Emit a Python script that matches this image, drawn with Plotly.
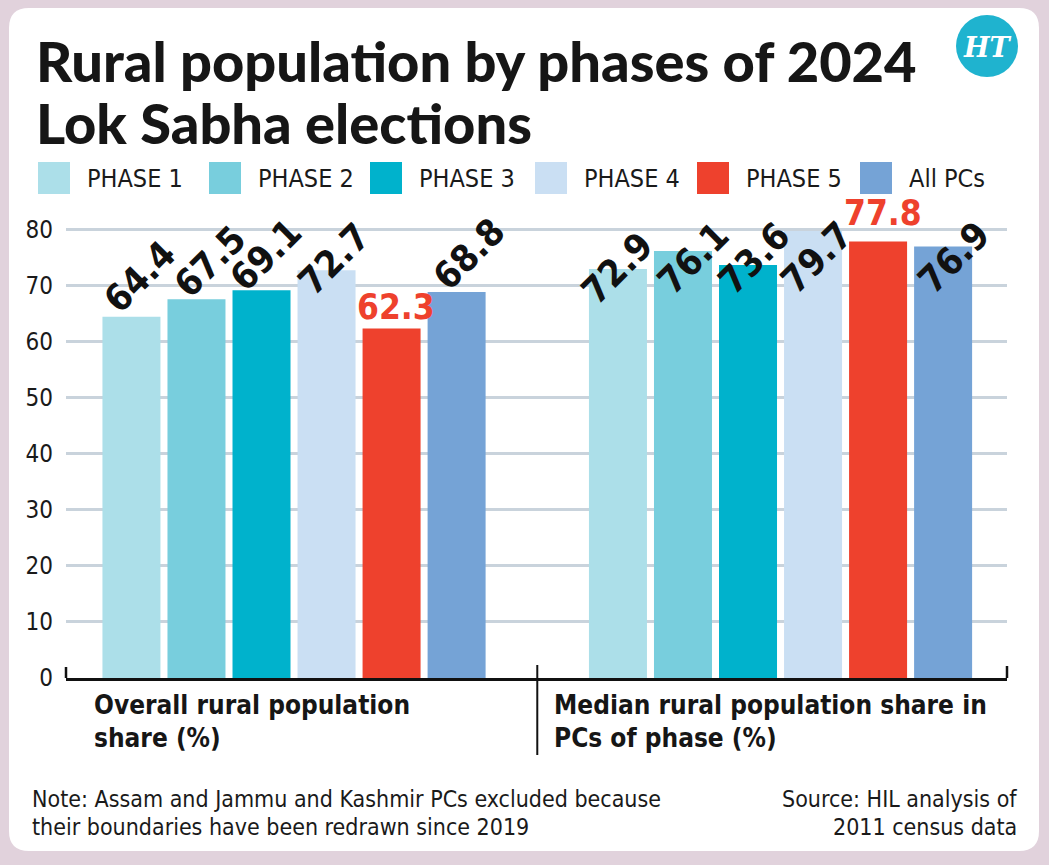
import plotly.graph_objects as go

# ---------------- data ----------------
group_labels = [["Overall rural population", "share (%)"],
                ["Median rural population share in", "PCs of phase (%)"]]
series_names = ["PHASE 1", "PHASE 2", "PHASE 3", "PHASE 4", "PHASE 5", "All PCs"]
overall_share = [64.4, 67.5, 69.1, 72.7, 62.3, 68.8]
median_share = [72.9, 76.1, 73.6, 79.7, 77.8, 76.9]
y_ticks = [0, 10, 20, 30, 40, 50, 60, 70, 80]
title_lines = ["Rural population by phases of 2024", "Lok Sabha elections"]
note_lines = ["Note: Assam and Jammu and Kashmir PCs excluded because",
              "their boundaries have been redrawn since 2019"]
source_lines = ["Source: HIL analysis of", "2011 census data"]

# ---------------- style ----------------
colors = ["#acdfe9", "#78cedd", "#00b2cc", "#cadff3", "#ee412d", "#75a3d6"]
highlight = 4  # PHASE 5 drawn in red, horizontal label
NARROW = "DejaVu Sans Condensed, Liberation Sans Narrow, sans-serif"
TITLEF = "Lato, Roboto, sans-serif"
BG = "#e1d2dc"
GRID = "#c9d3dc"
W, H = 1049, 865
ML, MR, MT, MB = 66, 42, 218, 187
PW, PH = W - ML - MR, H - MT - MB
BARGAP = 0.198
# label nudges (pixels) per group: (dx, dy-up)
nudges = [
    [(9, 40), (14, 38), (4, 35), (7, 11), (4, 22), (12, 38)],
    [(-1, 1), (10, -7), (6, 7), (4, -27), (5, 29), (11, -11)],
]


def px(x):
    return (x - ML) / PW


def py(y):
    return (H - MB - y) / PH


fig = go.Figure()
for i, name in enumerate(series_names):
    fig.add_trace(go.Bar(
        x=[0, 1], y=[overall_share[i], median_share[i]], name=name,
        marker=dict(color=colors[i], line=dict(width=0)),
        showlegend=False, hoverinfo="skip"))

shapes = []
annotations = []

# white rounded panel
x0, x1, y0, y1, r = px(9), px(1039), py(851), py(8), 20
rx, ry = r / PW, r / PH
path = (f"M {x0+rx},{y0} L {x1-rx},{y0} Q {x1},{y0} {x1},{y0+ry} "
        f"L {x1},{y1-ry} Q {x1},{y1} {x1-rx},{y1} L {x0+rx},{y1} "
        f"Q {x0},{y1} {x0},{y1-ry} L {x0},{y0+ry} Q {x0},{y0} {x0+rx},{y0} Z")
shapes.append(dict(type="path", path=path, xref="paper", yref="paper",
                   fillcolor="white", line=dict(width=0), layer="below"))

# HT logo
cx, cy, cr = 987, 46, 31
shapes.append(dict(type="circle", xref="paper", yref="paper",
                   x0=px(cx - cr), x1=px(cx + cr), y0=py(cy + cr), y1=py(cy - cr),
                   fillcolor="#1fb3cf", line=dict(width=0)))
annotations.append(dict(text="<b><i>HT</i></b>", x=px(cx), y=py(cy + 1), xref="paper", yref="paper",
                        showarrow=False, xanchor="center", yanchor="middle",
                        font=dict(family="DejaVu Serif, serif", size=27, color="white")))

# axis end ticks and middle divider
shapes.append(dict(type="line", xref="paper", yref="paper", x0=0, x1=0, y0=0, y1=py(667),
                   line=dict(color="#111", width=2.5)))
shapes.append(dict(type="line", xref="paper", yref="paper", x0=1, x1=1, y0=0, y1=py(666),
                   line=dict(color="#111", width=2.5)))
shapes.append(dict(type="line", xref="x", yref="paper", x0=0.5, x1=0.5, y0=py(665), y1=py(755),
                   line=dict(color="#111", width=2)))

# title
for k, (line, mid) in enumerate(zip(title_lines, [60, 122])):
    annotations.append(dict(text=line, x=px(34), y=py(mid), xref="paper", yref="paper",
                            showarrow=False, xanchor="left", yanchor="middle",
                            font=dict(family=TITLEF, size=56, color="#161616", weight=900)))

# legend (manual)
leg_sq = [38, 209, 370, 535, 697, 860]
for i, name in enumerate(series_names):
    shapes.append(dict(type="rect", xref="paper", yref="paper",
                       x0=px(leg_sq[i]), x1=px(leg_sq[i] + 32), y0=py(194), y1=py(162),
                       fillcolor=colors[i], line=dict(width=0)))
    annotations.append(dict(text=name, x=px(leg_sq[i] + 47), y=py(178), xref="paper", yref="paper",
                            showarrow=False, xanchor="left", yanchor="middle",
                            font=dict(family=NARROW, size=25, color="#1a1a1a")))

# value labels
grp_w = 1 - BARGAP
n = len(series_names)
for g, vals in enumerate([overall_share, median_share]):
    for i, v in enumerate(vals):
        dx, dy = nudges[g][i]
        xc = g + (i - (n - 1) / 2) * grp_w / n
        if i == highlight:
            annotations.append(dict(text=f"<b>{v}</b>", x=xc, y=v, xref="x", yref="y",
                                    showarrow=False, xanchor="center", yanchor="middle",
                                    xshift=dx, yshift=dy,
                                    font=dict(family=NARROW, size=35, color="#ee412d")))
        else:
            annotations.append(dict(text=f"<b>{v}</b>", x=xc, y=v, xref="x", yref="y",
                                    showarrow=False, xanchor="center", yanchor="middle",
                                    xshift=dx, yshift=dy, textangle=-45,
                                    font=dict(family=NARROW, size=37, color="#111")))

# category labels
cat_left = [92, 552]
for g, lines in enumerate(group_labels):
    for line, mid in zip(lines, [705, 738]):
        annotations.append(dict(text=f"<b>{line}</b>", x=px(cat_left[g]), y=py(mid),
                                xref="paper", yref="paper", showarrow=False,
                                xanchor="left", yanchor="middle",
                                font=dict(family=NARROW, size=26, color="#161616")))

# notes / source
for line, mid in zip(note_lines, [799, 827]):
    annotations.append(dict(text=line, x=px(30), y=py(mid), xref="paper", yref="paper",
                            showarrow=False, xanchor="left", yanchor="middle",
                            font=dict(family=NARROW, size=23, color="#1a1a1a")))
for line, mid in zip(source_lines, [799, 827]):
    annotations.append(dict(text=line, x=px(1019), y=py(mid), xref="paper", yref="paper",
                            showarrow=False, xanchor="right", yanchor="middle",
                            font=dict(family=NARROW, size=23, color="#1a1a1a")))

fig.update_layout(
    width=W, height=H,
    margin=dict(l=ML, r=MR, t=MT, b=MB, pad=0),
    paper_bgcolor=BG, plot_bgcolor="rgba(0,0,0,0)",
    barmode="group", bargap=BARGAP, bargroupgap=0.108,
    showlegend=False,
    shapes=shapes, annotations=annotations,
    xaxis=dict(range=[-0.4687, 1.4655], showticklabels=False, showgrid=False, zeroline=False,
               showline=True, linecolor="#111", linewidth=2.5, ticks="", fixedrange=True),
    yaxis=dict(range=[0, 82], tickvals=y_ticks, showgrid=True, gridcolor=GRID, gridwidth=2.5,
               zeroline=False, showline=False, ticks="", ticklabelstandoff=12,
               tickfont=dict(family=NARROW, size=24, color="#1a1a1a")),
)

fig.write_html("out.html")
